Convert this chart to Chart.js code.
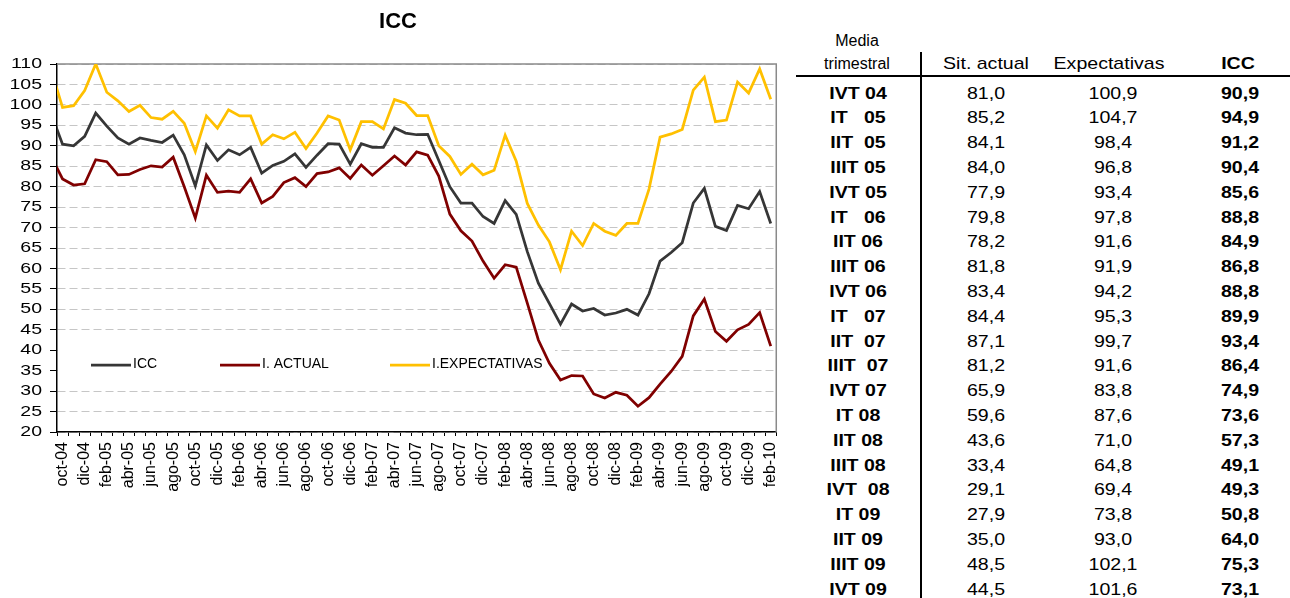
<!DOCTYPE html>
<html><head><meta charset="utf-8">
<script src="https://cdn.jsdelivr.net/npm/chart.js@4.4.1/dist/chart.umd.min.js"></script>
<style>
html,body{margin:0;padding:0;background:#fff;}
#wrap{position:relative;width:1290px;height:598px;overflow:hidden;background:#fff;font-family:"Liberation Sans",Arial,sans-serif;color:#000;}
#c{position:absolute;left:0;top:0;width:796px;height:598px;}
.t{position:absolute;white-space:pre;line-height:1;font-size:17px;transform:translate(-50%,-50%) scaleX(1.15);}
.b{font-weight:bold;}
.h{font-size:16px;transform:translate(-50%,-50%);}
.ln{position:absolute;background:#000;}
</style></head><body>
<div id="wrap"><canvas id="c" width="796" height="598"></canvas><div id="tbl"></div></div>
<script>
// ---- chart data (monthly). 'sep-04' lies just left of the visible axis (line enters from the edge)
const categories = ['sep-04','oct-04','nov-04','dic-04',
 'ene-05','feb-05','mar-05','abr-05','may-05','jun-05','jul-05','ago-05','sep-05','oct-05','nov-05','dic-05',
 'ene-06','feb-06','mar-06','abr-06','may-06','jun-06','jul-06','ago-06','sep-06','oct-06','nov-06','dic-06',
 'ene-07','feb-07','mar-07','abr-07','may-07','jun-07','jul-07','ago-07','sep-07','oct-07','nov-07','dic-07',
 'ene-08','feb-08','mar-08','abr-08','may-08','jun-08','jul-08','ago-08','sep-08','oct-08','nov-08','dic-08',
 'ene-09','feb-09','mar-09','abr-09','may-09','jun-09','jul-09','ago-09','sep-09','oct-09','nov-09','dic-09',
 'ene-10','feb-10'];
const iccMonthly = [97.6, 90.4, 90.0, 92.3,
 98.0, 94.8, 91.9, 90.4, 91.9, 91.3, 90.8, 92.6, 87.8, 80.2, 90.2, 86.4,
 89.0, 87.8, 89.6, 83.3, 85.2, 86.2, 88.0, 84.7, 87.7, 90.5, 90.4, 85.5,
 90.5, 89.6, 89.6, 94.4, 93.1, 92.7, 92.8, 86.4, 80.0, 76.0, 76.0, 72.7,
 71.0, 76.6, 73.2, 64.1, 56.4, 51.4, 46.4, 51.3, 49.6, 50.2, 48.6, 49.1,
 50.0, 48.6, 53.8, 61.8, 63.9, 66.3, 76.0, 79.6, 70.3, 69.3, 75.4, 74.6,
 78.8, 71.0];
const actualMonthly = [87.2, 81.9, 80.4, 80.7,
 86.6, 86.1, 82.9, 83.0, 84.2, 85.1, 84.8, 87.2, 80.0, 72.3, 82.8, 78.6,
 78.9, 78.6, 81.9, 76.0, 77.6, 81.0, 82.2, 80.0, 83.2, 83.6, 84.6, 82.0,
 85.3, 82.8, 85.1, 87.5, 85.3, 88.5, 87.7, 82.6, 73.3, 69.2, 66.7, 61.8,
 57.6, 60.9, 60.3, 51.5, 42.5, 36.8, 32.7, 33.8, 33.7, 29.3, 28.3, 29.7,
 29.0, 26.3, 28.4, 31.7, 34.8, 38.5, 48.4, 52.5, 44.6, 42.2, 45.0, 46.3,
 49.2, 41.0];
const expectMonthly = [108.3, 99.4, 99.8, 103.5,
 110.0, 103.1, 101.0, 98.4, 99.9, 96.9, 96.5, 98.4, 95.5, 88.6, 97.3, 94.3,
 98.8, 97.3, 97.3, 90.4, 92.7, 91.7, 93.3, 89.3, 93.1, 97.3, 96.3, 89.0,
 95.9, 95.9, 94.1, 101.3, 100.4, 97.4, 97.4, 90.0, 87.4, 83.0, 85.5, 82.9,
 84.0, 92.6, 86.2, 75.9, 70.6, 66.5, 59.7, 69.1, 65.6, 71.0, 69.1, 68.1,
 71.0, 71.0, 79.4, 92.1, 92.9, 94.0, 103.6, 106.8, 95.9, 96.3, 105.6, 102.9,
 108.8, 101.4];
const seriesNames = ['ICC', 'I. ACTUAL', 'I.EXPECTATIVAS'];
const firstVisible = 'oct-04';
const yMin = 20, yMax = 110, yStep = 5;

// ---- table data (quarterly averages)
const quarters = ['IVT 04','IT   05','IIT  05','IIIT 05','IVT 05','IT   06','IIT 06','IIIT 06','IVT 06','IT   07',
 'IIT  07','IIIT  07','IVT 07','IT 08','IIT 08','IIIT 08','IVT  08','IT 09','IIT 09','IIIT 09','IVT 09'];
const qActual = [81.0,85.2,84.1,84.0,77.9,79.8,78.2,81.8,83.4,84.4,87.1,81.2,65.9,59.6,43.6,33.4,29.1,27.9,35.0,48.5,44.5];
const qExpect = [100.9,104.7,98.4,96.8,93.4,97.8,91.6,91.9,94.2,95.3,99.7,91.6,83.8,87.6,71.0,64.8,69.4,73.8,93.0,102.1,101.6];
const qIcc = [90.9,94.9,91.2,90.4,85.6,88.8,84.9,86.8,88.8,89.9,93.4,86.4,74.9,73.6,57.3,49.1,49.3,50.8,64.0,75.3,73.1];
const tableHeaders = ['Sit. actual', 'Expectativas', 'ICC'];

// ---- styles
const colors = ['#363636', '#800000', '#FFC000'];
const legendX = [91, 220, 390];
const FONT = '"Liberation Sans", Arial, sans-serif';

const helper = {
  id: 'helper',
  beforeDatasetsDraw(chart) {
    const {ctx, chartArea: a} = chart;
    ctx.save();
    ctx.fillStyle = '#fff';
    ctx.fillRect(a.left + 1, 341, 554 - a.left, 45);
    ctx.strokeStyle = '#8a8a8a';
    ctx.lineWidth = 1.5;
    ctx.beginPath();
    ctx.moveTo(a.left, a.top); ctx.lineTo(a.right, a.top); ctx.lineTo(a.right, a.bottom);
    ctx.stroke();
    ctx.font = '14px ' + FONT;
    ctx.textBaseline = 'middle';
    ctx.textAlign = 'left';
    chart.data.datasets.forEach((ds, i) => {
      const x = legendX[i];
      ctx.strokeStyle = ds.borderColor;
      ctx.lineWidth = 2.75;
      ctx.beginPath(); ctx.moveTo(x, 365); ctx.lineTo(x + 40, 365); ctx.stroke();
      ctx.fillStyle = '#000';
      ctx.fillText(ds.label, x + 42, 364.5);
    });
    ctx.restore();
  },
  afterDraw(chart) {
    const {ctx} = chart;
    const s = chart.scales.y;
    ctx.save();
    ctx.font = '15px ' + FONT;
    ctx.fillStyle = '#000';
    ctx.textAlign = 'right';
    ctx.textBaseline = 'middle';
    s.ticks.forEach(t => {
      const y = s.getPixelForValue(t.value);
      ctx.save();
      ctx.translate(42, y);
      ctx.scale(1.3, 1);
      ctx.fillText(String(t.value), 0, 0);
      ctx.restore();
    });
    ctx.restore();
  }
};

new Chart(document.getElementById('c'), {
  type: 'line',
  data: {
    labels: categories,
    datasets: [
      {label: seriesNames[0], data: iccMonthly, borderColor: colors[0]},
      {label: seriesNames[1], data: actualMonthly, borderColor: colors[1]},
      {label: seriesNames[2], data: expectMonthly, borderColor: colors[2]}
    ]
  },
  options: {
    responsive: false,
    animation: false,
    devicePixelRatio: 1,
    elements: {
      line: {borderWidth: 2.75, tension: 0, fill: false},
      point: {radius: 0, hoverRadius: 0}
    },
    layout: {padding: {left: 8, right: 8, top: 0, bottom: 0}},
    plugins: {
      legend: {display: false},
      tooltip: {enabled: false},
      title: {
        display: true, text: 'ICC', color: '#000',
        font: {family: FONT, size: 22, weight: 'bold', lineHeight: 1.2},
        padding: {top: 9, bottom: 28.6}
      }
    },
    scales: {
      x: {
        type: 'category',
        min: firstVisible,
        offset: true,
        afterFit(scale) { scale.height = 166; },
        grid: {display: true, drawOnChartArea: false, drawTicks: true, tickLength: 4, color: '#000', offset: true, lineWidth: 1},
        border: {display: true, color: '#000', width: 1.5},
        ticks: {
          autoSkip: false, maxRotation: 90, minRotation: 90, padding: 6,
          color: '#000', font: {family: FONT, size: 16},
          callback: function(val, index) { return index % 2 === 0 ? this.getLabelForValue(val) : ''; }
        }
      },
      y: {
        min: yMin, max: yMax,
        afterFit(scale) { scale.width = 49; },
        grid: {color: '#c6c6c6', lineWidth: 1, tickColor: '#000', tickLength: 7, tickWidth: 1},
        border: {display: true, color: '#000', width: 1.5, dash: [8, 4]},
        ticks: {display: false, stepSize: yStep}
      }
    }
  },
  plugins: [helper]
});

// ---- table on the right
const tbl = document.getElementById('tbl');
function txt(s, cx, cy, cls) {
  const d = document.createElement('div');
  d.className = 't ' + (cls || '');
  d.textContent = s;
  d.style.left = cx + 'px';
  d.style.top = cy + 'px';
  tbl.appendChild(d);
}
function line(x, y, w, h) {
  const d = document.createElement('div');
  d.className = 'ln';
  d.style.left = x + 'px'; d.style.top = y + 'px'; d.style.width = w + 'px'; d.style.height = h + 'px';
  tbl.appendChild(d);
}
const fmt = v => v.toFixed(1).replace('.', ',');
txt('Media', 857, 41, 'h');
txt('trimestral', 857, 64, 'h');
txt(tableHeaders[0], 985.5, 63);
txt(tableHeaders[1], 1108.5, 63);
txt(tableHeaders[2], 1238, 63, 'b');
line(796, 75, 494, 2);
line(920, 52, 2, 546);
quarters.forEach((q, i) => {
  const cy = 92.5 + 24.8 * i;
  txt(q, 858, cy, 'b');
  txt(fmt(qActual[i]), 985.5, cy);
  txt(fmt(qExpect[i]), 1112.5, cy);
  txt(fmt(qIcc[i]), 1239.5, cy, 'b');
});
</script>
</body></html>
